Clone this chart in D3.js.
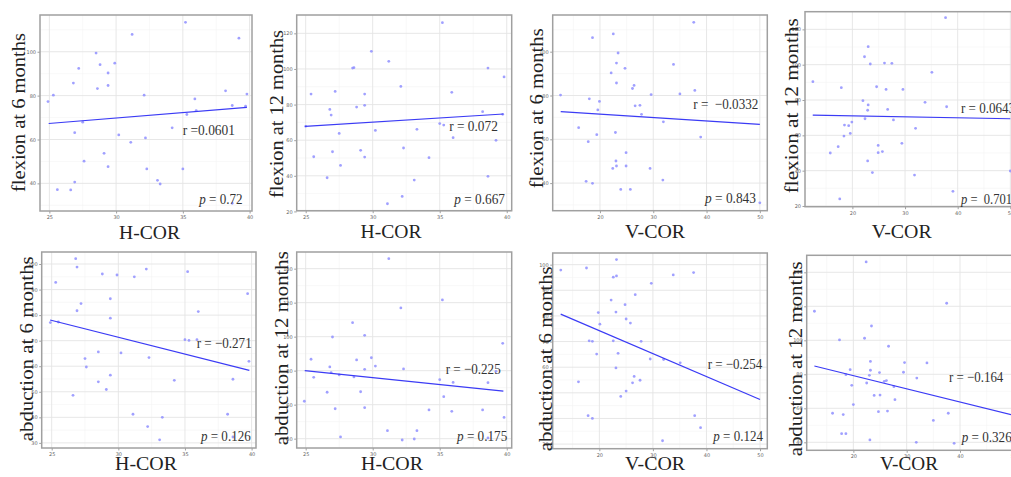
<!DOCTYPE html>
<html><head><meta charset="utf-8">
<script src="https://cdn.jsdelivr.net/npm/d3@7"></script>
<style>html,body{margin:0;padding:0;background:#fff;overflow:hidden}</style>
</head><body>
<svg id="c" width="1011" height="477"></svg>
<script>
// ---------- DATA ----------
const flex6_hcor = [[24.9,77.3],[25.3,80.2],[25.6,37.1],[26.6,37.0],[26.8,85.7],[26.9,63.1],[26.9,40.6],[27.2,92.4],[27.5,67.9],[27.6,50.1],[28.5,99.4],[28.6,83.2],[28.8,94.1],[29.1,53.7],[29.4,90.3],[29.4,84.6],[29.4,47.6],[29.9,94.8],[30.2,62.1],[31.2,107.9],[31.1,58.7],[32.1,80.2],[32.2,60.7],[32.3,46.6],[33.1,41.4],[33.3,39.7],[34.2,65.3],[35.0,46.6],[35.2,113.4],[35.3,71.4],[35.9,78.5],[36.0,73.2],[38.2,82.2],[38.7,75.5],[38.7,30.9],[39.2,106.2],[39.7,75.2],[39.8,80.7]];
const flex12_hcor = [[25.0,67.8],[25.4,85.9],[25.6,50.7],[26.6,38.9],[26.8,77.3],[26.9,74.1],[27.0,53.5],[27.2,87.4],[27.5,63.8],[27.6,45.8],[28.5,100.5],[28.6,100.7],[28.8,78.6],[29.1,54.3],[29.4,85.9],[29.4,79.6],[29.4,50.5],[29.9,109.9],[30.2,65.5],[31.2,104.3],[31.1,24.3],[32.1,90.2],[32.2,28.4],[32.3,55.6],[33.1,37.6],[33.3,66.1],[34.2,50.2],[35.0,69.3],[35.2,126.0],[35.3,68.5],[35.9,86.9],[36.0,61.4],[38.2,76.0],[38.6,39.7],[38.6,100.5],[39.2,59.9],[39.7,74.5],[39.8,95.5]];
const flex6_vcor = [[12.6,80.2],[16.0,65.3],[17.4,40.8],[17.8,58.9],[18.0,78.5],[18.6,106.4],[18.6,39.9],[19.4,62.1],[19.6,73.4],[19.9,77.3],[22.1,90.3],[22.4,46.7],[22.5,108.1],[22.9,63.1],[23.0,50.1],[23.1,94.8],[23.1,85.7],[23.1,47.8],[23.4,99.4],[23.9,37.1],[24.7,92.4],[24.9,53.9],[24.9,47.8],[26.1,83.2],[26.4,84.6],[26.6,75.3],[25.7,37.1],[27.5,75.5],[27.8,71.4],[29.4,46.7],[29.6,80.4],[31.8,41.4],[31.9,68.0],[33.8,94.2],[35.0,80.7],[37.6,113.4],[37.8,82.3],[38.9,61.0],[50.0,31.0]];
const flex12_vcor = [[12.5,90.4],[15.8,50.0],[17.3,53.6],[17.6,24.0],[17.9,87.0],[18.4,59.6],[18.5,65.8],[19.3,65.5],[19.6,61.1],[19.9,67.5],[22.0,79.6],[22.3,104.5],[22.4,69.4],[22.9,74.2],[22.9,45.5],[23.0,110.2],[23.0,77.2],[23.4,100.4],[23.8,38.9],[24.6,87.5],[24.9,54.3],[24.9,50.2],[25.7,50.8],[26.1,100.9],[26.4,86.0],[26.7,74.7],[27.5,100.8],[27.8,68.7],[29.4,55.5],[29.6,86.0],[31.8,37.5],[32.0,64.0],[33.8,78.7],[35.1,95.7],[37.7,126.6],[37.9,76.2],[39.1,28.3],[50.0,39.8]];
const abd6_hcor = [[24.9,77.1],[25.3,92.8],[25.5,77.3],[26.6,48.6],[26.8,102.1],[26.9,81.7],[26.9,98.8],[27.2,84.5],[27.5,63.0],[27.6,59.7],[28.5,65.6],[28.5,53.9],[28.8,96.1],[29.1,50.9],[29.4,86.4],[29.4,78.8],[29.4,56.5],[29.9,95.7],[30.2,65.2],[31.2,95.0],[31.1,41.2],[32.1,98.0],[32.2,36.4],[32.3,63.4],[33.1,31.2],[33.3,40.0],[34.2,54.5],[35.0,70.4],[35.2,97.0],[35.3,70.1],[35.9,70.4],[36.0,81.4],[38.2,41.2],[38.6,54.9],[38.6,32.3],[39.7,88.4],[39.8,61.9]];
const abd12_hcor = [[24.9,62.0],[25.4,86.7],[25.6,76.1],[26.6,67.3],[26.8,82.2],[26.9,78.8],[27.0,99.8],[27.2,57.6],[27.5,77.5],[27.6,41.0],[28.5,108.2],[28.6,76.3],[28.8,86.3],[29.1,67.6],[29.4,100.8],[29.4,80.8],[29.4,58.2],[29.9,87.6],[30.2,82.7],[31.2,145.9],[31.1,44.7],[32.1,116.9],[32.2,39.2],[32.3,81.0],[33.1,39.8],[33.3,44.7],[34.2,56.9],[35.0,74.7],[35.2,121.6],[35.3,64.7],[35.9,56.1],[36.0,73.1],[38.2,56.9],[38.6,72.9],[39.2,79.6],[39.7,96.1],[39.8,52.5],[38.6,40.4]];
const abd6_vcor = [[12.8,97.9],[16.1,54.3],[17.6,98.7],[17.9,41.1],[18.1,70.3],[18.7,70.1],[18.7,40.0],[19.5,65.1],[19.8,81.3],[20.1,76.8],[22.2,86.2],[22.6,70.3],[22.6,95.1],[23.1,81.5],[23.1,59.7],[23.2,102.0],[23.2,95.6],[23.5,65.4],[24.0,48.6],[24.8,84.4],[25.0,78.8],[25.0,50.7],[25.8,77.2],[26.2,53.9],[26.5,56.4],[26.7,88.3],[27.6,54.9],[27.8,70.1],[29.5,63.2],[29.7,92.7],[31.8,31.3],[32.0,63.0],[33.8,96.0],[35.1,61.7],[37.6,96.9],[37.8,41.1],[38.9,36.4]];
const abd12_vcor = [[12.7,117.1],[16.1,57.1],[17.4,100.2],[17.8,45.1],[18.1,56.3],[18.6,45.1],[18.6,79.8],[19.4,82.7],[19.7,73.5],[20.0,62.2],[22.1,101.2],[22.4,146.1],[22.5,74.9],[23.0,79.4],[23.1,41.4],[23.2,87.6],[23.2,82.4],[23.4,108.4],[23.9,67.6],[24.7,58.0],[24.9,81.0],[25.0,67.8],[25.8,75.9],[26.2,76.3],[26.4,58.4],[26.6,96.5],[27.6,72.7],[27.8,65.1],[29.4,81.2],[29.6,86.9],[31.8,40.0],[31.9,77.8],[33.8,86.7],[35.0,52.9],[37.5,121.8],[37.8,57.1],[38.9,39.4]];

// fitted regression lines: [x0, y0, x1, y1] in data units
const fitLines = [
  [24.95,67.3,39.8,74.6],
  [24.95,67.8,39.75,74.7],
  [12.63,72.6,50,66.8],
  [12.47,71.5,50,69.4],
  [24.88,78.1,39.83,58.4],
  [24.93,80.0,39.75,68.0],
  [12.78,80.7,50,47.4],
  [12.69,84.9,50,55.9]
];
const rLabels = ["r =0.0601","r = 0.072","r =  \u22120.0332","r = 0.0643","r = \u22120.271","r = \u22120.225","r = \u22120.254","r = \u22120.164"];
const pValues = ["0.72","0.667","0.843"," 0.701","0.126","0.175","0.124","0.326"];
const yTitles = ["flexion at 6 months","flexion at 12 months","flexion at 6 months","flexion at 12 months","abduction at 6 months","abduction at 12 months","abduction at 6 months","abduction at 12 months"];
const xTitles = ["H-COR","H-COR","V-COR","V-COR","H-COR","H-COR","V-COR","V-COR"];
const hcorTicks = [25,30,35,40];
const vcorTicks = [20,30,40,50];
const flex6Ticks = [40,60,80,100];
const flex12Ticks = [20,40,60,80,100,120];
const abd6Ticks = [30,40,50,60,70,80,90,100];
const abd12Ticks = [40,60,80,100,120,140];

const panelData = [flex6_hcor,flex12_hcor,flex6_vcor,flex12_vcor,abd6_hcor,abd12_hcor,abd6_vcor,abd12_vcor];
const panelXTicks = [hcorTicks,hcorTicks,vcorTicks,vcorTicks,hcorTicks,hcorTicks,vcorTicks,vcorTicks];
const panelYTicks = [flex6Ticks,flex12Ticks,flex6Ticks,flex12Ticks,abd6Ticks,abd12Ticks,abd6Ticks,abd12Ticks];

// ---------- LAYOUT ----------
// box [left, top, right, bottom] px ; xd / yd = domain at box edges
const layout = [
  {box:[40,15,252,211],      xd:[24.3,40.18], yd:[27.4,116.75], yt:[25,112.5,159],   xt:[149.5,239.3,61], rt:[182.7,135,52.3],  pt:[199.3,204,43.3]},
  {box:[296.7,15,511.7,210.7],xd:[24.33,40.37],yd:[20.4,130.3], yt:[282.7,114,168],  xt:[391,237.5,61],   rt:[449.3,130.7,48.5],pt:[454.3,204,50.7]},
  {box:[552.7,15,767.3,210.7],xd:[11.13,51.4], yd:[27.4,116.75], yt:[543.3,108.3,160],xt:[655,237.5,60],   rt:[693.3,109.3,65],  pt:[705,203.3,51]},
  {box:[805,11.7,1017.7,206.7],xd:[11.0,51.4], yd:[19.6,130],    yt:[798,105.8,175],  xt:[901.7,238,60],   rt:[961,113,54],      pt:[961,204,51]},
  {box:[41.7,252,256,448],   xd:[24.25,40.33],yd:[28.0,104.7],  yt:[33.3,348.8,185], xt:[146,469.5,62],   rt:[196.7,348,55],    pt:[201,440.7,49.7]},
  {box:[296.7,252,511.7,448],xd:[24.33,40.37],yd:[34.5,149.8],  yt:[288,348.3,194],  xt:[392,469.5,62],   rt:[445.7,374,55],    pt:[457,441.3,50.3]},
  {box:[552.7,253,767.3,448.7],xd:[11.29,51.36],yd:[28.2,104.55],yt:[551.7,358.8,185],xt:[655,469.5,60],   rt:[707.7,368.7,54.6],pt:[713.3,441.3,49.7]},
  {box:[806.7,255.3,1020.8,450.3],xd:[11.25,51.4],yd:[35.3,150], yt:[801.7,358.8,195],xt:[909,470,58],     rt:[949,382,54.3],    pt:[961.7,442,50]}
];

const svg = d3.select("#c");
const serif = "'Liberation Serif','Times New Roman',serif";

layout.forEach((L,i)=>{
  const [l,t,r,b] = L.box;
  const x = d3.scaleLinear().domain(L.xd).range([l,r]);
  const y = d3.scaleLinear().domain(L.yd).range([b,t]);
  const g = svg.append("g");
  const xt = panelXTicks[i], ytk = panelYTicks[i];
  const xs = xt[1]-xt[0], ys = ytk[1]-ytk[0];
  const xMinor = xt.map(v=>v-xs/2).concat([xt[xt.length-1]+xs/2]).filter(v=>v>L.xd[0]&&v<L.xd[1]);
  const yMinor = ytk.map(v=>v-ys/2).concat([ytk[ytk.length-1]+ys/2]).filter(v=>v>L.yd[0]&&v<L.yd[1]);
  // minor grid
  g.selectAll(".mx").data(xMinor).join("line").attr("x1",d=>x(d)).attr("x2",d=>x(d)).attr("y1",t).attr("y2",b).attr("stroke","#f3f3f3").attr("stroke-width",0.6);
  g.selectAll(".my").data(yMinor).join("line").attr("y1",d=>y(d)).attr("y2",d=>y(d)).attr("x1",l).attr("x2",r).attr("stroke","#f3f3f3").attr("stroke-width",0.6);
  // major grid
  g.selectAll(".gx").data(xt).join("line").attr("x1",d=>x(d)).attr("x2",d=>x(d)).attr("y1",t).attr("y2",b).attr("stroke","#e4e4e4").attr("stroke-width",0.9);
  g.selectAll(".gy").data(ytk).join("line").attr("y1",d=>y(d)).attr("y2",d=>y(d)).attr("x1",l).attr("x2",r).attr("stroke","#e4e4e4").attr("stroke-width",0.9);
  // axes (ticks + tiny labels)
  const ax = g.append("g").attr("transform",`translate(0,${b})`)
    .call(d3.axisBottom(x).tickValues(xt).tickSize(2.5).tickPadding(2).tickFormat(d3.format("d")));
  const ay = g.append("g").attr("transform",`translate(${l},0)`)
    .call(d3.axisLeft(y).tickValues(ytk).tickSize(2.5).tickPadding(1.5).tickFormat(d3.format("d")));
  [ax,ay].forEach(a=>{
    a.select(".domain").remove();
    a.selectAll("line").attr("stroke","#888").attr("stroke-width",0.8);
    a.selectAll("text").attr("fill","#666").attr("font-size",5).attr("font-family","'DejaVu Sans',sans-serif");
  });
  // box
  g.append("rect").attr("x",l).attr("y",t).attr("width",r-l).attr("height",b-t)
    .attr("fill","none").attr("stroke","#a0a0a0").attr("stroke-width",1.5);
  // points
  g.selectAll(".pt").data(panelData[i]).join("circle")
    .attr("cx",d=>x(d[0])).attr("cy",d=>y(d[1])).attr("r",1.4)
    .attr("fill","#8f8fff").attr("fill-opacity",0.85);
  // fit line
  const f = fitLines[i];
  g.append("line").attr("x1",x(f[0])).attr("y1",y(f[1])).attr("x2",x(f[2])).attr("y2",y(f[3]))
    .attr("stroke","#3b3bf5").attr("stroke-width",1.2);
  // stats
  g.append("text").attr("x",L.rt[0]).attr("y",L.rt[1]).attr("textLength",L.rt[2]).attr("lengthAdjust","spacingAndGlyphs")
    .attr("font-family",serif).attr("font-size",15).attr("fill","#333").attr("xml:space","preserve").text(rLabels[i]);
  const pt = g.append("text").attr("x",L.pt[0]).attr("y",L.pt[1]).attr("textLength",L.pt[2]).attr("lengthAdjust","spacingAndGlyphs")
    .attr("font-family",serif).attr("font-size",15).attr("fill","#333").attr("xml:space","preserve");
  pt.append("tspan").attr("font-style","italic").text("p");
  pt.append("tspan").text(" = "+pValues[i]);
  // axis titles
  g.append("text").attr("transform",`translate(${L.yt[0]},${L.yt[1]}) rotate(-90)`)
    .attr("text-anchor","middle").attr("textLength",L.yt[2]).attr("lengthAdjust","spacingAndGlyphs")
    .attr("font-family",serif).attr("font-size",19).attr("fill","#222").text(yTitles[i]);
  g.append("text").attr("x",L.xt[0]).attr("y",L.xt[1]).attr("text-anchor","middle")
    .attr("textLength",L.xt[2]).attr("lengthAdjust","spacingAndGlyphs")
    .attr("font-family",serif).attr("font-size",19).attr("fill","#222").text(xTitles[i]);
});
</script>
</body></html>
